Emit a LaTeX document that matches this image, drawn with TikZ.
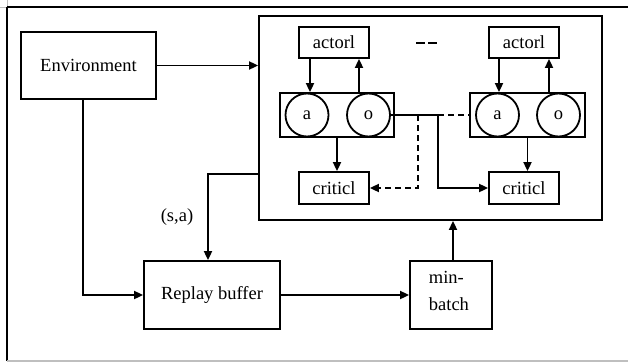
\documentclass[tikz,border=0pt]{standalone}
\usepackage{fontspec}
\setmainfont{Liberation Serif}
\usetikzlibrary{arrows.meta}
\begin{document}
\begin{tikzpicture}[x=1pt,y=-1pt,
  line width=1.8pt,
  font=\fontsize{18.5}{27}\selectfont,
  arr/.style={-{Triangle[length=9pt,width=8pt]}},
  blk/.style={draw,rectangle,inner sep=0pt,minimum width=#1},
  dsh/.style={dash pattern=on 6pt off 4pt},
  unit/.style={draw,circle,inner sep=0pt,minimum size=43pt}]
\useasboundingbox (0,0) rectangle (628,362);

% page frame
\draw[black!25,line width=0.6pt] (0,7) -- (7,7) (7,0) -- (7,7);
\draw (7,7) -- (628,7) (7,7) -- (7,361);
\draw[black!25,line width=1.5pt] (7,361) -- (628,361);

% main blocks
\node[blk=135pt,minimum height=67pt] (env) at (88.5,65.5) {Environment};
\node[blk=343pt,minimum height=204pt] (agents) at (430.5,118) {};
\node[blk=136pt,minimum height=68pt] (replay) at (212,295) {Replay buffer};
\node[blk=82pt,minimum height=68pt] (mb) at (451,295) {};
\node[anchor=west,align=left,inner sep=0pt] (mbtext) at (428,291) {min-\\batch};

% left agent
\node[blk=70pt,minimum height=31pt] (actL) at (334,42.5) {actorl};
\node[blk=114pt,minimum height=44pt] (aoL) at (337,115) {};
\node[unit] (aL) at (307,115) {a};
\node[unit] (oL) at (368.5,115) {o};
\node[blk=70pt,minimum height=32pt] (critL) at (334,188) {criticl};

% right agent
\node[blk=70pt,minimum height=31pt] (actR) at (524,42.5) {actorl};
\node[blk=115pt,minimum height=44pt] (aoR) at (527.5,115) {};
\node[unit] (aR) at (497.5,115) {a};
\node[unit] (oR) at (558.5,115) {o};
\node[blk=70pt,minimum height=32pt] (critR) at (524,188) {criticl};

% ellipsis between the agents
\coordinate (dotsA) at (416,43);
\coordinate (dotsB) at (437,43);
\draw[dash pattern=on 9pt off 3pt] (dotsA) -- (dotsB);

% label
\node (sa) at (177,217) {(s,a)};

% connectors outside the agent block
\draw[arr] (env.east) -- (env.east -| agents.west);
\draw[arr] ([xshift=-5.5pt]env.south) |- (replay.west);
\draw[arr] ([yshift=-56pt]agents.west) -| ([xshift=-4pt]replay.north);
\draw[arr] (replay.east) -- (mb.west);
\draw[arr] ([xshift=2pt]mb.north) -- ([xshift=2pt]mb.north |- agents.south);

% connectors inside the agent block
\draw[arr] ([xshift=-24pt]actL.south) -- ([xshift=-24pt]actL.south |- aoL.north);
\draw[arr] ([xshift=25pt]actL.south |- aoL.north) -- ([xshift=25pt]actL.south);
\draw[arr] (aoL.south) -- (aoL.south |- critL.north);
\draw[arr] ([xshift=-25pt]actR.south) -- ([xshift=-25pt]actR.south |- aoR.north);
\draw[arr] ([xshift=25pt]actR.south |- aoR.north) -- ([xshift=25pt]actR.south);
\draw[arr] (aoR.south) -- (aoR.south |- critR.north);

\coordinate (split) at (438,115);
\coordinate (dsplit) at (418,115);
\draw[arr] (oL.east) -- (split) |- (critR.west);
\draw[dsh] (dsplit) -- (aoR.west);
\draw[dsh,arr] (dsplit) |- (critL.east);
\end{tikzpicture}
\end{document}
